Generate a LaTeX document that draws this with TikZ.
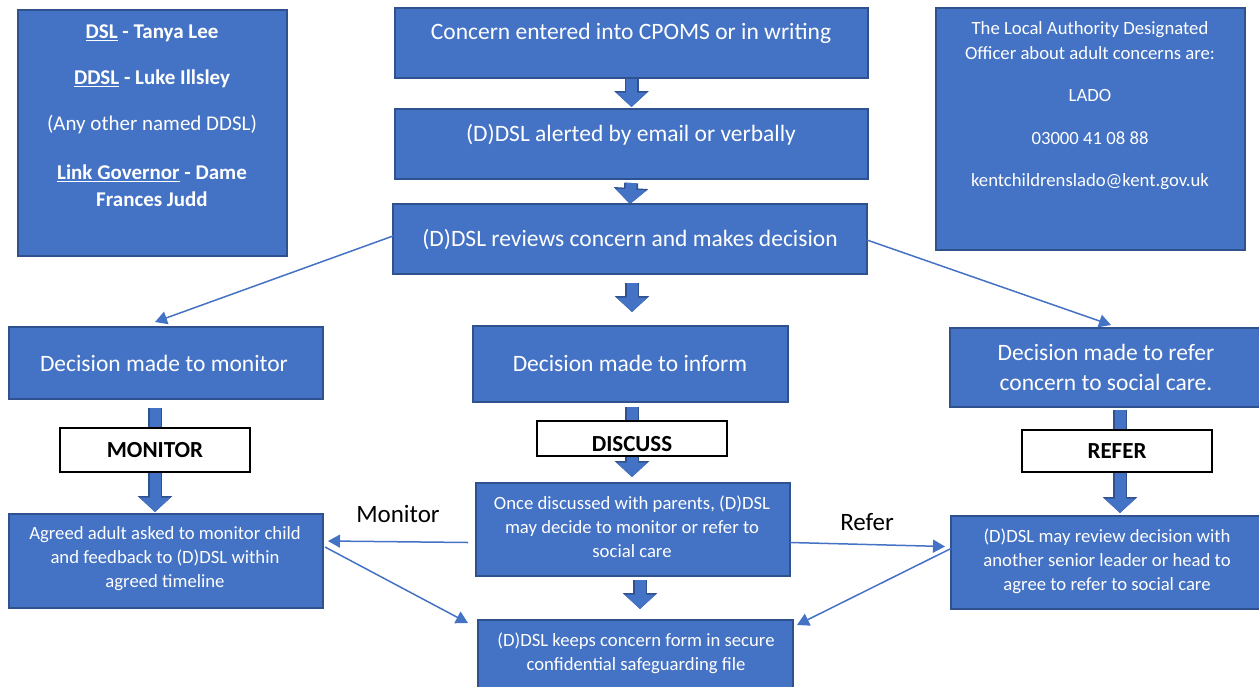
\documentclass[tikz,border=0pt]{standalone}
\usepackage{fontspec}
\setmainfont{Carlito}
\usetikzlibrary{arrows.meta,calc}
\definecolor{boxblue}{HTML}{4472C4}
\definecolor{boxedge}{HTML}{2F528F}
\pgfdeclarelayer{bg}
\pgfsetlayers{bg,main}
\newcommand\rbox[6][box]{\node[#1,minimum width={(#5-#3)*1pt},minimum height={(#6-#4)*1pt}] (#2) at ({(#3+#5)/2},{(#4+#6)/2}) {};}
\newcommand\blk[3][]{\draw[blko,#1] #2 -- #3; \draw[blki,#1] #2 -- #3;}
\begin{document}
\begin{tikzpicture}[x=1pt,y=-1pt,
  box/.style={draw=boxedge,fill=boxblue,line width=1.3pt,inner sep=0pt,outer sep=0pt},
  lbl/.style={draw=black,fill=white,line width=1.5pt,inner sep=0pt,outer sep=0pt},
  txt/.style={text=white,align=center,inner sep=0pt},
  big/.style={font=\fontsize{23.5}{30}\selectfont},
  small/.style={font=\fontsize{18.7}{24}\selectfont},
  infol/.style={font=\fontsize{21}{27}\selectfont},
  infor/.style={font=\fontsize{18.7}{25}\selectfont},
  tag/.style={text=black,inner sep=0pt,font=\fontsize{23}{26}\selectfont\bfseries},
  side/.style={text=black,inner sep=0pt,font=\fontsize{25}{28}\selectfont},
  thin/.style={draw=boxblue,line width=1.5pt,-{Triangle[length=12pt,width=13pt]}},
  blko/.style={draw=boxedge,line width=14pt,-{Triangle[length=16pt,width=34pt]}},
  blki/.style={draw=boxblue,line width=11pt,-{Triangle[length=14.5pt,width=30pt]}},
]
\useasboundingbox (0,0) rectangle (1259,686);
\clip (0,0) rectangle (1259,686);

% boxes
\rbox{info}{18}{10}{287}{256}
\rbox{b1}{395}{8}{868}{78}
\rbox{b2}{395}{109}{868}{179}
\rbox{b3}{393}{204}{867}{274}
\rbox{lado}{936}{8}{1245}{250}
\rbox{dm}{9}{327}{323}{399}
\rbox{di}{473}{326}{788}{402}
\rbox{dr}{950}{328}{1272}{407}
\rbox{aa}{9}{514}{323}{608}
\rbox{once}{476}{483}{790}{576}
\rbox{keeps}{478}{620}{793}{700}
\rbox{rev}{951}{516}{1272}{609}
\rbox[lbl]{mon}{60}{428}{250}{472}
\rbox[lbl]{dis}{537}{421}{727}{456}
\rbox[lbl]{ref}{1022}{430}{1212}{472}

% texts
\node[txt,infol] (i1) at (152,33) {\bfseries\underline{DSL} - Tanya Lee};
\node[txt,infol] (i2) at (152,79) {\bfseries\underline{DDSL} - Luke Illsley};
\node[txt,infol] (i3) at (152,125) {(Any other named DDSL)};
\node[txt,infol] (i4) at (152,186) {\bfseries\underline{Link Governor} - Dame\\\bfseries Frances Judd};

\node[txt,infor] (l1) at (1090,41) {The Local Authority Designated\\Officer about adult concerns are:};
\node[txt,infor] (l2) at (1090,95) {LADO};
\node[txt,infor] (l3) at (1090,138) {03000 41 08 88};
\node[txt,infor] (l4) at (1090,182) {kentchildrenslado@kent.gov.uk};

\node[txt,big] (b1t) at (631,33) {Concern entered into CPOMS or in writing};
\node[txt,big] (b2t) at (631,135) {(D)DSL alerted by email or verbally};
\node[txt,big] (b3t) at (630,240) {(D)DSL reviews concern and makes decision};
\node[txt,big] (dmt) at (164,363) {Decision made to monitor};
\node[txt,big] (dit) at (630,363) {Decision made to inform};
\node[txt,big] (drt) at (1106,367) {Decision made to refer\\concern to social care.};

\node[tag] (mont) at (mon.center) {MONITOR};
\node[tag] (dist) at (632,444) {DISCUSS};
\node[tag] (reft) at (ref.center) {REFER};

\node[txt,small] (aat) at (165,559) {Agreed adult asked to monitor child\\and feedback to (D)DSL within\\agreed timeline};
\node[txt,small] (oncet) at (632,527) {Once discussed with parents, (D)DSL\\may decide to monitor or refer to\\social care};
\node[txt,small] (keepst) at (636,653) {(D)DSL keeps concern form in secure\\confidential safeguarding file};
\node[txt,small] (revt) at (1107,561) {(D)DSL may review decision with\\another senior leader or head to\\agree to refer to social care};

\node[side] (monl) at (398,514) {Monitor};
\node[side] (refl) at (867,522) {Refer};

\begin{pgfonlayer}{bg}
\blk[shorten >=2pt]{(b1.south)}{(b2.north)}
\blk[shorten <=4pt]{(b2.south)}{(b3.north)}
\blk[shorten <=9pt,shorten >=14pt]{($(b3.south)+(2,0)$)}{($(di.north)+(1.5,0)$)}
\blk[shorten <=9pt,shorten >=2pt]{(mon |- dm.south)}{(mon |- aa.north)}
\blk[shorten <=5pt,shorten >=6pt]{(dis |- di.south)}{(dis |- once.north)}
\blk[shorten <=4pt,shorten >=11pt]{($(once.south)+(7,0)$)}{($(keeps.north)+(4.5,0)$)}
\blk[shorten <=3pt,shorten >=3pt]{($(ref.center |- dr.south)+(3,0)$)}{($(ref.center |- rev.north)+(3,0)$)}
\end{pgfonlayer}

% thin connectors
\draw[thin] ($(b3.west)+(0,-3)$) -- ($(dm.north)+(-11,-5)$);
\draw[thin] ($(b3.east)+(0,1)$) -- ($(dr.north)+(0,-3)$);
\draw[thin] ($(once.west)+(-8,13)$) -- ($(aa.east)+(5,-20)$);
\draw[thin] ($(aa.east)+(2,-14)$) -- ($(keeps.north west)+(-10,3)$);
\draw[thin] ($(once.east)+(0,13)$) -- ($(rev.west)+(-6,-16)$);
\draw[thin] ($(rev.west)+(0,-14)$) -- ($(keeps.north east)+(4,5)$);
\end{tikzpicture}
\end{document}
